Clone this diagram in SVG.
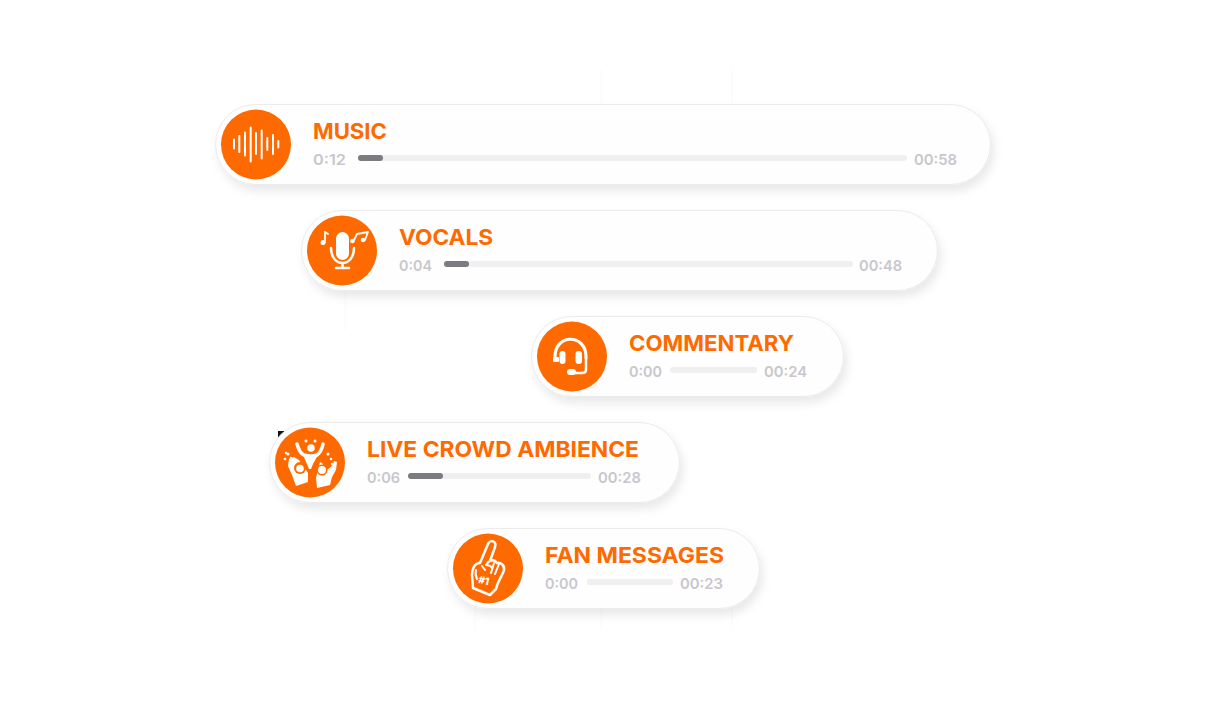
<svg xmlns="http://www.w3.org/2000/svg" width="1206" height="701" viewBox="0 0 1206 701">
<defs>
<filter id="sh" x="-10%" y="-30%" width="120%" height="170%"><feDropShadow dx="3" dy="6" stdDeviation="5" flood-color="#000" flood-opacity="0.09"/></filter>
</defs>
<style>
.pill{fill:#fefefe;stroke:#ebeaec;stroke-width:1;filter:url(#sh)}
.ic{fill:#ff6a00}
.t{font:650 22px Inter,"Liberation Sans",sans-serif;fill:#ff6a00}
.n{font:600 15px Inter,"Liberation Sans",sans-serif;fill:#c9c7cc}
.tr{stroke:#efeef0;stroke-width:6;stroke-linecap:round;fill:none}
.pr{stroke:#7d7b7f;stroke-width:6;stroke-linecap:round;fill:none}
.w{stroke:#fff;fill:none;stroke-linecap:round;stroke-linejoin:round}
.wf{fill:#fff}
.grid{stroke:#fbfbfb;stroke-width:1.500;fill:none}
</style>
<rect width="1206" height="701" fill="#fff"/>
<path class="grid" d="M601 70V104M732 70V104M345 290V330M475 608V630M601 608V630M732 608V630"/>
<path d="M278 431h8l-8 8z" fill="#111"/>
<g id="connectors"/>

<g id="music">
<rect class="pill" x="215.500" y="104.500" width="775" height="80" rx="40"/>
<circle cx="256" cy="144.500" r="38" fill="#fff"/>
<circle class="ic" cx="256" cy="144.500" r="35"/>
<path class="w" stroke-width="2" d="M234 139.500v9M239.300 136v16M245 132.500v23M250.700 127.500v34M256 133v21M261.700 130.500v28M267.300 138v12M273 135v19M278.300 141v6.500"/>
<text class="t" x="313" y="139" textLength="74" lengthAdjust="spacingAndGlyphs">MUSIC</text>
<text class="n" x="313" y="165" textLength="33" lengthAdjust="spacingAndGlyphs">0:12</text>
<path class="tr" d="M361 158H904"/><path class="pr" d="M361 158H380"/>
<text class="n" x="914" y="165" textLength="43" lengthAdjust="spacingAndGlyphs">00:58</text>
</g>

<g id="vocals">
<rect class="pill" x="301.500" y="210.500" width="636" height="80" rx="40"/>
<circle cx="342" cy="250.500" r="38" fill="#fff"/>
<circle class="ic" cx="342" cy="250.500" r="35"/>
<rect x="337" y="233" width="11" height="26" rx="5.500" fill="#fff" stroke="#fff" stroke-width="2"/>
<path class="w" stroke-width="2.500" d="M331 248c0 20 23 20 23 0M342.500 263v5M336 268h13"/>
<path class="w" stroke-width="1.800" d="M325 232v10M325 232l3 2M354 240l3-6 11-2-3 8"/>
<circle class="wf" cx="323" cy="242.500" r="2.500"/><circle class="wf" cx="352.500" cy="241" r="2.300"/><circle class="wf" cx="363" cy="240" r="2.300"/>
<text class="t" x="399" y="245" textLength="94" lengthAdjust="spacingAndGlyphs">VOCALS</text>
<text class="n" x="399" y="271" textLength="33" lengthAdjust="spacingAndGlyphs">0:04</text>
<path class="tr" d="M447 264H850"/><path class="pr" d="M447 264H466"/>
<text class="n" x="859" y="271" textLength="43" lengthAdjust="spacingAndGlyphs">00:48</text>
</g>

<g id="commentary">
<rect class="pill" x="531.500" y="316.500" width="312" height="80" rx="40"/>
<circle cx="572" cy="356.500" r="38" fill="#fff"/>
<circle class="ic" cx="572" cy="356.500" r="35"/>
<path class="w" stroke-width="3.200" d="M555 358c-1-25 32-25 31 0"/>
<path class="w" stroke-width="2.500" d="M586 358v12c0 2-2 3-4 3H574"/>
<rect class="wf" x="553" y="357" width="6" height="5" rx="1"/><rect class="wf" x="559.500" y="351" width="6" height="13" rx="3"/><rect class="wf" x="575.500" y="351" width="6.500" height="13" rx="3"/><rect class="wf" x="567" y="369" width="9" height="6" rx="3"/>
<text class="t" x="629" y="351" textLength="165" lengthAdjust="spacingAndGlyphs">COMMENTARY</text>
<text class="n" x="629" y="377" textLength="33" lengthAdjust="spacingAndGlyphs">0:00</text>
<path class="tr" d="M673 370H754"/>
<text class="n" x="764" y="377" textLength="43" lengthAdjust="spacingAndGlyphs">00:24</text>
</g>

<g id="live-crowd-ambience">
<rect class="pill" x="269.500" y="422.500" width="410" height="80" rx="40"/>
<circle cx="310" cy="462.500" r="38" fill="#fff"/>
<circle class="ic" cx="310" cy="462.500" r="35"/>
<circle class="wf" cx="311" cy="448" r="3.800"/>
<path class="w" stroke-width="3.500" d="M297 444c2 7 4 10 7 11 4 1 10 1 13 0 3-2 5-6 6-11"/>
<path class="wf" d="M303 455h15l-5 9-2 5h-2l-2-5z"/>
<path class="wf" d="M291 458l3-1 5 3 9 13 0 9-12 4-4-11-4-9 1-7z"/>
<circle class="ic" cx="300" cy="468" r="6"/><circle class="wf" cx="300" cy="468.500" r="3.800"/>
<path class="wf" d="M334 461l3 1-1 8-4 7-2 8-13 3-1-10 3-12 1-4 3 2c-1 3-1 5 0 7 4-1 9-3 11-10z"/>
<circle class="ic" cx="322" cy="470" r="5.500"/><circle class="wf" cx="322" cy="470" r="4"/>
<g class="wf"><circle cx="306" cy="441" r="1.500"/><circle cx="315" cy="441" r="1.500"/><circle cx="288" cy="454" r="1.500"/><circle cx="291" cy="458" r="1.300"/><circle cx="285" cy="459" r="1.300"/><circle cx="286" cy="453" r="1.200"/><circle cx="328" cy="454" r="1.500"/><circle cx="331" cy="459" r="1.300"/><circle cx="332" cy="464" r="1.200"/></g>
<text class="t" x="367" y="457" textLength="272" lengthAdjust="spacingAndGlyphs">LIVE CROWD AMBIENCE</text>
<text class="n" x="367" y="483" textLength="33" lengthAdjust="spacingAndGlyphs">0:06</text>
<path class="tr" d="M411 476H588"/><path class="pr" d="M411 476H440"/>
<text class="n" x="598" y="483" textLength="43" lengthAdjust="spacingAndGlyphs">00:28</text>
</g>

<g id="fan-messages">
<rect class="pill" x="447.500" y="528.500" width="312" height="80" rx="40"/>
<circle cx="488" cy="568.500" r="38" fill="#fff"/>
<circle class="ic" cx="488" cy="568.500" r="35"/>
<path class="w" stroke-width="2.500" d="M488 544L480 563C474 563 472 570 472 575L473 588L490 595L496 589C498 580 503 575 504 570C505 565 500 562 497 563C495 560 492 560 490 561L495 547C497 541 490 539 488 544Z"/>
<path class="w" stroke-width="2" d="M482 566L485 570M490 561c-2 1-3 2-4 4 3 0 5 1 6 3M494 563L491 573M499 564L495 574M476 570c-1 4 0 7 1 9"/>
<text x="483" y="584" transform="rotate(12 483 584)" text-anchor="middle" font-family="Inter,'Liberation Sans',sans-serif" font-weight="800" font-size="10" fill="#fff">#1</text>
<text class="t" x="545" y="563" textLength="179" lengthAdjust="spacingAndGlyphs">FAN MESSAGES</text>
<text class="n" x="545" y="589" textLength="33" lengthAdjust="spacingAndGlyphs">0:00</text>
<path class="tr" d="M590 582H670"/>
<text class="n" x="680" y="589" textLength="43" lengthAdjust="spacingAndGlyphs">00:23</text>
</g>
</svg>
